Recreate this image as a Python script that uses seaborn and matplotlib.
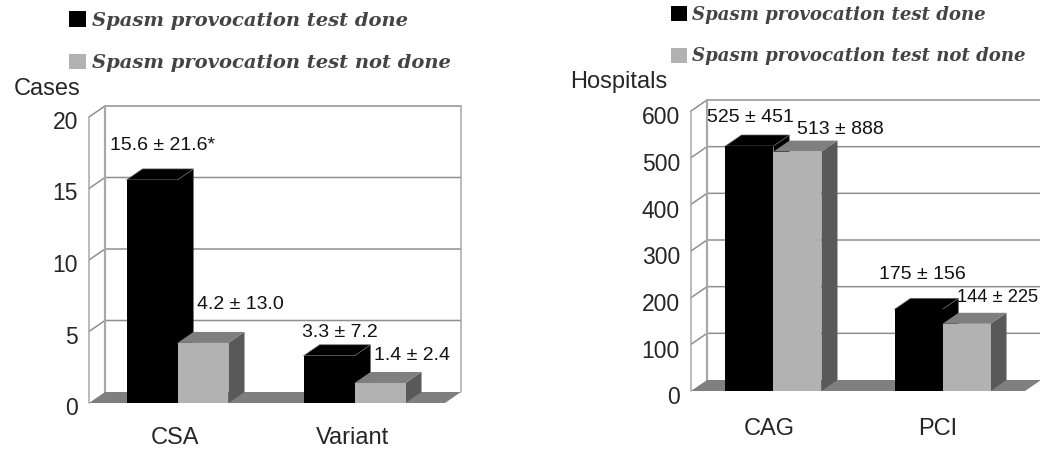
import pandas as pd
import matplotlib
matplotlib.use("Agg")
import matplotlib.pyplot as plt
from matplotlib.font_manager import FontProperties
from matplotlib.patches import Polygon
from matplotlib.transforms import ScaledTranslation
import seaborn as sns

series_names = ["Spasm provocation test done", "Spasm provocation test not done"]

cases_groups = ["CSA", "Variant"]
cases_done = [15.6, 3.3]
cases_not_done = [4.2, 1.4]
cases_labels = ["15.6 ± 21.6*", "3.3 ± 7.2", "4.2 ± 13.0", "1.4 ± 2.4"]
cases_ticks = [0, 5, 10, 15, 20]

hosp_groups = ["CAG", "PCI"]
hosp_done = [525, 175]
hosp_not_done = [513, 144]
hosp_labels = ["525 ± 451", "175 ± 156", "513 ± 888", "144 ± 225"]
hosp_ticks = [0, 100, 200, 300, 400, 500, 600]

W, H = 1040, 450
sns.set_style("white")
plt.rcParams["font.family"] = ["Liberation Sans", "DejaVu Sans"]

palette = {series_names[0]: "#000000", series_names[1]: "#b2b2b2"}
top_colors = ["#000000", "#7f7f7f"]
side_colors = ["#000000", "#595959"]
wall = "#a8a8a8"
grid = "#8f8f8f"

fig = plt.figure(figsize=(W / 100, H / 100), dpi=100)


def make_axes(left, right, top, bottom):
    return fig.add_axes([left / W, 1 - bottom / H, (right - left) / W, (bottom - top) / H])


def panel(ax, groups, done, not_done, ticks, xlim, width, ylabel, ylabel_xy,
          labels, label_offsets, label_sizes, legend_xy, legend_size, legend_gap,
          tick_pad, ytick_shift, xtick_shift):
    df = pd.DataFrame({
        "group": groups * 2,
        "series": [series_names[0]] * 2 + [series_names[1]] * 2,
        "value": list(done) + list(not_done),
    })
    sns.barplot(data=df, x="group", y="value", hue="series", palette=palette,
                width=width, gap=0, saturation=1, linewidth=0, ax=ax)
    ax.set_xlim(*xlim)
    ax.set_ylim(ticks[0], ticks[-1])
    ax.set_yticks(ticks)
    ax.patch.set_alpha(0)
    sns.despine(ax=ax, left=True, bottom=True)
    ax.tick_params(axis="y", length=0, labelsize=16.5, pad=8)
    ax.tick_params(axis="x", length=0, labelsize=17, pad=tick_pad)
    for t in ax.get_yticklabels():
        t.set_verticalalignment("center_baseline")
        t.set_transform(t.get_transform() + ScaledTranslation(0, -ytick_shift / 100, fig.dpi_scale_trans))
    for t in ax.get_xticklabels():
        t.set_transform(t.get_transform() + ScaledTranslation(xtick_shift / 100, 0, fig.dpi_scale_trans))
    ax.set_xlabel("")

    # 3d depth: 16 px across, 11 px up
    bbox = ax.get_position()
    dx = 16 * (xlim[1] - xlim[0]) / (bbox.width * W)
    dy = 11 * (ticks[-1] - ticks[0]) / (bbox.height * H)
    x0, x1 = xlim

    for t in ticks[1:]:
        ax.plot([x0, x0 + dx, x1 + dx], [t, t + dy, t + dy], color=grid, lw=1.1,
                clip_on=False, zorder=1)
    ax.plot([x0, x0], [0, ticks[-1]], color=wall, lw=1.1, clip_on=False, zorder=1)
    ax.plot([x0 + dx, x0 + dx], [dy, ticks[-1] + dy], color=wall, lw=1.6, clip_on=False, zorder=1)
    ax.plot([x1 + dx, x1 + dx], [dy, ticks[-1] + dy], color=wall, lw=1.1, clip_on=False, zorder=1)
    ax.add_patch(Polygon([(x0, 0), (x1, 0), (x1 + dx, dy), (x0 + dx, dy)],
                         fc="#7f7f7f", ec="none", clip_on=False, zorder=1.5))

    for i, bars in enumerate(ax.containers[:2]):
        for bar in bars:
            a = bar.get_x()
            b = a + bar.get_width()
            h = bar.get_height()
            ax.add_patch(Polygon([(b, 0), (b + dx, dy), (b + dx, h + dy), (b, h)],
                                 fc=side_colors[i], ec="none", clip_on=False, zorder=2 + 2 * i))
            ax.add_patch(Polygon([(a, h), (b, h), (b + dx, h + dy), (a + dx, h + dy)],
                                 fc=top_colors[i], ec="#666666" if i == 0 else "none",
                                 lw=0.5, clip_on=False, zorder=2 + 2 * i))
            bar.set_zorder(3 + 2 * i)

    bars = list(ax.containers[0]) + list(ax.containers[1])
    for bar, text, off, size in zip(bars, labels, label_offsets, label_sizes):
        ax.annotate(text, (bar.get_x(), bar.get_height()), xytext=off,
                    textcoords="offset pixels", ha="left", va="center",
                    fontsize=size, color="#111111", zorder=9, annotation_clip=False)

    ax.set_ylabel(ylabel, rotation=0, fontsize=17, ha="left", va="center")
    ax.yaxis.set_label_coords(ylabel_xy[0] / W, 1 - ylabel_xy[1] / H, transform=fig.transFigure)

    handles, names = ax.get_legend_handles_labels()
    ax.legend(handles, names, loc="upper left", frameon=False,
              bbox_to_anchor=(legend_xy[0] / W, 1 - legend_xy[1] / H),
              bbox_transform=fig.transFigure, borderpad=0, borderaxespad=0,
              handlelength=0.88, handleheight=0.88, handletextpad=0.3,
              labelspacing=legend_gap, labelcolor="#444444",
              prop=FontProperties(family="DejaVu Serif", style="italic",
                                  weight="bold", size=legend_size))


ax1 = make_axes(89, 445, 117, 403)
panel(ax1, cases_groups, cases_done, cases_not_done, cases_ticks, (-0.50, 1.511), 0.576,
      "Cases", (14, 89), cases_labels,
      [(-17, 34), (-2, 23), (19, 38), (19, 27)], [14, 14, 14, 14],
      (69, 11), 14, 1.23, 17.5, 3, -2.5)

ax2 = make_axes(691, 1025, 111, 391)
panel(ax2, hosp_groups, hosp_done, hosp_not_done, hosp_ticks, (-0.488, 1.488), 0.568,
      "Hospitals", (570, 82), hosp_labels,
      [(-18, 29), (-16, 35), (24, 22), (14, 26)], [14, 14, 14, 13.2],
      (671, 6), 13.1, 1.29, 19.5, 4.5, -4.5)

fig.savefig("out.png", dpi=100)
